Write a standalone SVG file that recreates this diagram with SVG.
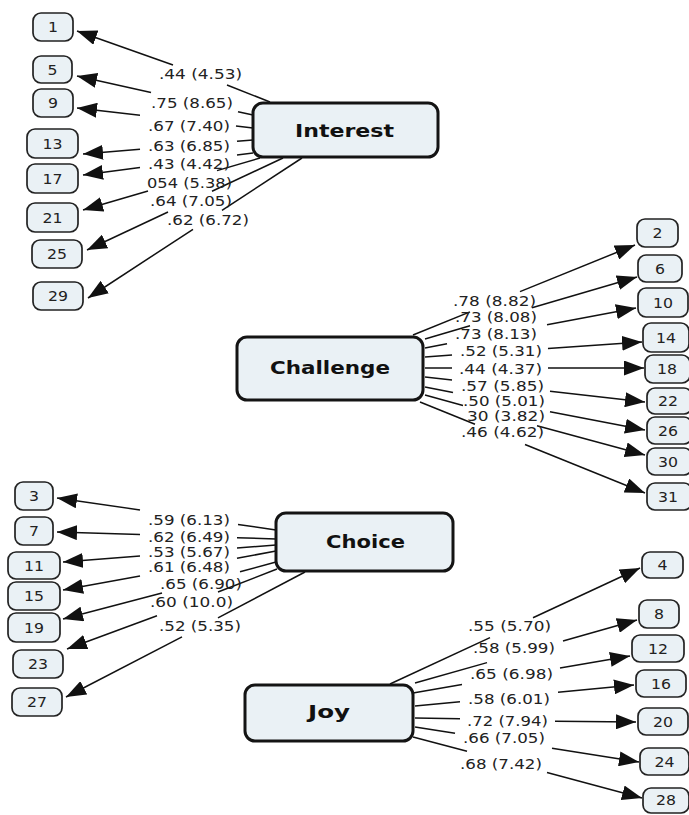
<svg xmlns="http://www.w3.org/2000/svg" width="689" height="815" viewBox="0 0 689 815">
  <style>
    .factor rect { fill: #eaf1f5; stroke: #141414; stroke-width: 3; }
    .factor text { font-family: "DejaVu Sans", Verdana, sans-serif; font-weight: bold; font-size: 17px; fill: #111; }
    .item rect { fill: #eaf1f5; stroke: #222; stroke-width: 1.7; }
    .item text { font-family: "DejaVu Sans", Verdana, sans-serif; font-size: 13.5px; fill: #222; text-anchor: middle; }
    .conn line { stroke: #111; stroke-width: 1.5; fill: none; }
    .lbl text { font-family: "DejaVu Sans", Verdana, sans-serif; font-size: 13.5px; fill: #222; }
  </style>
  <defs>
    <marker id="ah" viewBox="0 0 20 15" refX="20" refY="7.5" markerWidth="20" markerHeight="15" markerUnits="userSpaceOnUse" orient="auto">
      <path d="M0,0 L20,7.5 L0,15 z" fill="#111"/>
    </marker>
  </defs>

  <rect width="689" height="815" fill="#fff"/>

  <!-- connectors: each loading is split around its label; the item end carries the arrowhead -->
  <g id="connectors" class="conn">
    <!-- Interest -->
    <line x1="270" y1="102" x2="227" y2="85"/><line x1="173" y1="65" x2="77" y2="31" marker-end="url(#ah)"/>
    <line x1="253" y1="115" x2="238" y2="111.7"/><line x1="151" y1="92.4" x2="77" y2="76" marker-end="url(#ah)"/>
    <line x1="253" y1="128" x2="236" y2="126"/><line x1="140" y1="115.2" x2="77" y2="108" marker-end="url(#ah)"/>
    <line x1="253" y1="140" x2="237" y2="141.3"/><line x1="140" y1="149.3" x2="83" y2="154" marker-end="url(#ah)"/>
    <line x1="253" y1="153" x2="237" y2="155"/><line x1="140" y1="167.6" x2="83" y2="175" marker-end="url(#ah)"/>
    <line x1="260" y1="158" x2="217" y2="170.6"/><line x1="148" y1="191" x2="83" y2="210" marker-end="url(#ah)"/>
    <line x1="283" y1="158" x2="212" y2="191.3"/><line x1="168" y1="212" x2="87" y2="250" marker-end="url(#ah)"/>
    <line x1="302" y1="158" x2="222" y2="210.3"/><line x1="193" y1="229.3" x2="88" y2="298" marker-end="url(#ah)"/>
    <!-- Challenge -->
    <line x1="413" y1="335" x2="470" y2="311.9"/><line x1="520" y1="291.6" x2="635" y2="245" marker-end="url(#ah)"/>
    <line x1="425" y1="339" x2="470" y2="325.8"/><line x1="532" y1="307.7" x2="637" y2="277" marker-end="url(#ah)"/>
    <line x1="425" y1="348" x2="447" y2="343.8"/><line x1="547" y1="324.8" x2="636" y2="308" marker-end="url(#ah)"/>
    <line x1="425" y1="357" x2="452" y2="355.1"/><line x1="548" y1="348.5" x2="642" y2="342" marker-end="url(#ah)"/>
    <line x1="425" y1="368" x2="452" y2="368"/><line x1="548" y1="368" x2="644" y2="368" marker-end="url(#ah)"/>
    <line x1="425" y1="377" x2="452" y2="380.1"/><line x1="550" y1="391.3" x2="645" y2="402" marker-end="url(#ah)"/>
    <line x1="425" y1="387" x2="453" y2="392.5"/><line x1="550" y1="411.7" x2="645" y2="430" marker-end="url(#ah)"/>
    <line x1="425" y1="395" x2="463" y2="405.5"/><line x1="537" y1="425.8" x2="645" y2="455" marker-end="url(#ah)"/>
    <line x1="420" y1="402" x2="475" y2="424.2"/><line x1="525" y1="444.5" x2="645" y2="493" marker-end="url(#ah)"/>
    <!-- Choice -->
    <line x1="276" y1="530" x2="238" y2="524.4"/><line x1="140" y1="509.9" x2="57" y2="498" marker-end="url(#ah)"/>
    <line x1="276" y1="539" x2="237" y2="537.7"/><line x1="140" y1="534.6" x2="57" y2="532" marker-end="url(#ah)"/>
    <line x1="276" y1="545" x2="237" y2="548.1"/><line x1="140" y1="556" x2="63" y2="562" marker-end="url(#ah)"/>
    <line x1="276" y1="551" x2="237" y2="558.3"/><line x1="140" y1="576.1" x2="63" y2="590" marker-end="url(#ah)"/>
    <line x1="276" y1="562" x2="240" y2="571.8"/><line x1="162" y1="593.1" x2="63" y2="619" marker-end="url(#ah)"/>
    <line x1="277" y1="569" x2="218" y2="592"/><line x1="157" y1="615.8" x2="67" y2="649" marker-end="url(#ah)"/>
    <line x1="305" y1="572" x2="218" y2="617.9"/><line x1="182" y1="636.9" x2="66" y2="697" marker-end="url(#ah)"/>
    <!-- Joy -->
    <line x1="390" y1="684" x2="490" y2="637.6"/><line x1="533" y1="617.7" x2="640" y2="568" marker-end="url(#ah)"/>
    <line x1="415" y1="683" x2="487" y2="662.6"/><line x1="563" y1="641" x2="637" y2="620" marker-end="url(#ah)"/>
    <line x1="413" y1="693" x2="462" y2="684.6"/><line x1="560" y1="667.9" x2="630" y2="656" marker-end="url(#ah)"/>
    <line x1="415" y1="706" x2="460" y2="701.7"/><line x1="558" y1="692.3" x2="634" y2="685" marker-end="url(#ah)"/>
    <line x1="415" y1="718" x2="460" y2="718.8"/><line x1="555" y1="721.3" x2="636" y2="722" marker-end="url(#ah)"/>
    <line x1="415" y1="727" x2="455" y2="733.2"/><line x1="552" y1="748.3" x2="639" y2="762" marker-end="url(#ah)"/>
    <line x1="413" y1="737" x2="467" y2="751.3"/><line x1="547" y1="772.5" x2="642" y2="798" marker-end="url(#ah)"/>
  </g>

  <!-- loading labels: estimate (t value) -->
  <g id="labels" class="lbl">
    <text x="159" y="79" textLength="83" lengthAdjust="spacingAndGlyphs">.44 (4.53)</text>
    <text x="151" y="108" textLength="82" lengthAdjust="spacingAndGlyphs">.75 (8.65)</text>
    <text x="148" y="131" textLength="82" lengthAdjust="spacingAndGlyphs">.67 (7.40)</text>
    <text x="148" y="151" textLength="82" lengthAdjust="spacingAndGlyphs">.63 (6.85)</text>
    <text x="148" y="169" textLength="82" lengthAdjust="spacingAndGlyphs">.43 (4.42)</text>
    <text x="147" y="188" textLength="85" lengthAdjust="spacingAndGlyphs">054 (5.38)</text>
    <text x="150" y="206" textLength="82" lengthAdjust="spacingAndGlyphs">.64 (7.05)</text>
    <text x="167" y="225" textLength="82" lengthAdjust="spacingAndGlyphs">.62 (6.72)</text>

    <text x="453" y="306" textLength="83" lengthAdjust="spacingAndGlyphs">.78 (8.82)</text>
    <text x="455" y="322" textLength="82" lengthAdjust="spacingAndGlyphs">.73 (8.08)</text>
    <text x="455" y="339" textLength="82" lengthAdjust="spacingAndGlyphs">.73 (8.13)</text>
    <text x="460" y="356" textLength="82" lengthAdjust="spacingAndGlyphs">.52 (5.31)</text>
    <text x="459" y="374" textLength="83" lengthAdjust="spacingAndGlyphs">.44 (4.37)</text>
    <text x="461" y="391" textLength="83" lengthAdjust="spacingAndGlyphs">.57 (5.85)</text>
    <text x="463" y="406" textLength="82" lengthAdjust="spacingAndGlyphs">.50 (5.01)</text>
    <text x="467" y="421" textLength="78" lengthAdjust="spacingAndGlyphs">30 (3.82)</text>
    <text x="461" y="437" textLength="83" lengthAdjust="spacingAndGlyphs">.46 (4.62)</text>

    <text x="148" y="525" textLength="82" lengthAdjust="spacingAndGlyphs">.59 (6.13)</text>
    <text x="148" y="542" textLength="82" lengthAdjust="spacingAndGlyphs">.62 (6.49)</text>
    <text x="148" y="557" textLength="82" lengthAdjust="spacingAndGlyphs">.53 (5.67)</text>
    <text x="148" y="572" textLength="82" lengthAdjust="spacingAndGlyphs">.61 (6.48)</text>
    <text x="160" y="589" textLength="82" lengthAdjust="spacingAndGlyphs">.65 (6.90)</text>
    <text x="150" y="607" textLength="83" lengthAdjust="spacingAndGlyphs">.60 (10.0)</text>
    <text x="159" y="631" textLength="82" lengthAdjust="spacingAndGlyphs">.52 (5.35)</text>

    <text x="468" y="631" textLength="83" lengthAdjust="spacingAndGlyphs">.55 (5.70)</text>
    <text x="473" y="653" textLength="82" lengthAdjust="spacingAndGlyphs">.58 (5.99)</text>
    <text x="470" y="679" textLength="83" lengthAdjust="spacingAndGlyphs">.65 (6.98)</text>
    <text x="468" y="704" textLength="82" lengthAdjust="spacingAndGlyphs">.58 (6.01)</text>
    <text x="467" y="726" textLength="81" lengthAdjust="spacingAndGlyphs">.72 (7.94)</text>
    <text x="463" y="743" textLength="82" lengthAdjust="spacingAndGlyphs">.66 (7.05)</text>
    <text x="460" y="769" textLength="82" lengthAdjust="spacingAndGlyphs">.68 (7.42)</text>
  </g>

  <!-- latent factors -->
  <g id="interest" class="factor"><rect x="253" y="103" width="185" height="54" rx="10"/><text x="295" y="137" textLength="99" lengthAdjust="spacingAndGlyphs">Interest</text></g>
  <g id="challenge" class="factor"><rect x="237" y="337" width="186" height="63" rx="10"/><text x="270" y="374" textLength="120" lengthAdjust="spacingAndGlyphs">Challenge</text></g>
  <g id="choice" class="factor"><rect x="276" y="513" width="177" height="58" rx="10"/><text x="326" y="548" textLength="79" lengthAdjust="spacingAndGlyphs">Choice</text></g>
  <g id="joy" class="factor"><rect x="245" y="685" width="168" height="56" rx="10"/><text x="308" y="718" textLength="42" lengthAdjust="spacingAndGlyphs">Joy</text></g>

  <!-- observed items: Interest -->
  <g id="item1" class="item"><rect x="33" y="13" width="40" height="28" rx="8"/><text x="53" y="32" textLength="10" lengthAdjust="spacingAndGlyphs">1</text></g>
  <g id="item5" class="item"><rect x="33" y="56" width="39" height="27" rx="8"/><text x="52.5" y="74.5" textLength="10" lengthAdjust="spacingAndGlyphs">5</text></g>
  <g id="item9" class="item"><rect x="33" y="89" width="40" height="28" rx="8"/><text x="53" y="108" textLength="10" lengthAdjust="spacingAndGlyphs">9</text></g>
  <g id="item13" class="item"><rect x="27" y="129" width="51" height="29" rx="8"/><text x="52.5" y="148.5" textLength="20" lengthAdjust="spacingAndGlyphs">13</text></g>
  <g id="item17" class="item"><rect x="27" y="164" width="51" height="29" rx="8"/><text x="52.5" y="183.5" textLength="20" lengthAdjust="spacingAndGlyphs">17</text></g>
  <g id="item21" class="item"><rect x="27" y="203" width="51" height="29" rx="8"/><text x="52.5" y="222.5" textLength="20" lengthAdjust="spacingAndGlyphs">21</text></g>
  <g id="item25" class="item"><rect x="32" y="240" width="50" height="28" rx="8"/><text x="57" y="259" textLength="20" lengthAdjust="spacingAndGlyphs">25</text></g>
  <g id="item29" class="item"><rect x="33" y="282" width="50" height="28" rx="8"/><text x="58" y="301" textLength="20" lengthAdjust="spacingAndGlyphs">29</text></g>

  <!-- observed items: Challenge -->
  <g id="item2" class="item"><rect x="637" y="219" width="41" height="28" rx="8"/><text x="657.5" y="238" textLength="10" lengthAdjust="spacingAndGlyphs">2</text></g>
  <g id="item6" class="item"><rect x="638" y="255" width="44" height="27" rx="8"/><text x="660" y="273.5" textLength="10" lengthAdjust="spacingAndGlyphs">6</text></g>
  <g id="item10" class="item"><rect x="638" y="288" width="50" height="29" rx="8"/><text x="663" y="307.5" textLength="20" lengthAdjust="spacingAndGlyphs">10</text></g>
  <g id="item14" class="item"><rect x="643" y="323" width="46" height="29" rx="8"/><text x="666" y="342.5" textLength="20" lengthAdjust="spacingAndGlyphs">14</text></g>
  <g id="item18" class="item"><rect x="645" y="355" width="45" height="28" rx="8"/><text x="667" y="374" textLength="20" lengthAdjust="spacingAndGlyphs">18</text></g>
  <g id="item22" class="item"><rect x="647" y="388" width="45" height="26" rx="8"/><text x="668" y="406" textLength="20" lengthAdjust="spacingAndGlyphs">22</text></g>
  <g id="item26" class="item"><rect x="647" y="417" width="45" height="27" rx="8"/><text x="668" y="435.5" textLength="20" lengthAdjust="spacingAndGlyphs">26</text></g>
  <g id="item30" class="item"><rect x="647" y="448" width="45" height="27" rx="8"/><text x="668" y="466.5" textLength="20" lengthAdjust="spacingAndGlyphs">30</text></g>
  <g id="item31" class="item"><rect x="647" y="483" width="45" height="27" rx="8"/><text x="668" y="501.5" textLength="20" lengthAdjust="spacingAndGlyphs">31</text></g>

  <!-- observed items: Choice -->
  <g id="item3" class="item"><rect x="15" y="482" width="38" height="28" rx="8"/><text x="34" y="501" textLength="10" lengthAdjust="spacingAndGlyphs">3</text></g>
  <g id="item7" class="item"><rect x="15" y="517" width="38" height="28" rx="8"/><text x="34" y="536" textLength="10" lengthAdjust="spacingAndGlyphs">7</text></g>
  <g id="item11" class="item"><rect x="8" y="552" width="52" height="27" rx="8"/><text x="34" y="570.5" textLength="20" lengthAdjust="spacingAndGlyphs">11</text></g>
  <g id="item15" class="item"><rect x="8" y="582" width="52" height="28" rx="8"/><text x="34" y="601" textLength="20" lengthAdjust="spacingAndGlyphs">15</text></g>
  <g id="item19" class="item"><rect x="8" y="613" width="52" height="29" rx="8"/><text x="34" y="632.5" textLength="20" lengthAdjust="spacingAndGlyphs">19</text></g>
  <g id="item23" class="item"><rect x="13" y="650" width="50" height="28" rx="8"/><text x="38" y="669" textLength="20" lengthAdjust="spacingAndGlyphs">23</text></g>
  <g id="item27" class="item"><rect x="12" y="688" width="50" height="28" rx="8"/><text x="37" y="707" textLength="20" lengthAdjust="spacingAndGlyphs">27</text></g>

  <!-- observed items: Joy -->
  <g id="item4" class="item"><rect x="642" y="552" width="41" height="26" rx="8"/><text x="662.5" y="570" textLength="10" lengthAdjust="spacingAndGlyphs">4</text></g>
  <g id="item8" class="item"><rect x="639" y="600" width="40" height="28" rx="8"/><text x="659" y="619" textLength="10" lengthAdjust="spacingAndGlyphs">8</text></g>
  <g id="item12" class="item"><rect x="632" y="635" width="52" height="27" rx="8"/><text x="658" y="653.5" textLength="20" lengthAdjust="spacingAndGlyphs">12</text></g>
  <g id="item16" class="item"><rect x="636" y="670" width="50" height="27" rx="8"/><text x="661" y="688.5" textLength="20" lengthAdjust="spacingAndGlyphs">16</text></g>
  <g id="item20" class="item"><rect x="638" y="708" width="50" height="27" rx="8"/><text x="663" y="726.5" textLength="20" lengthAdjust="spacingAndGlyphs">20</text></g>
  <g id="item24" class="item"><rect x="640" y="748" width="49" height="27" rx="8"/><text x="664.5" y="766.5" textLength="20" lengthAdjust="spacingAndGlyphs">24</text></g>
  <g id="item28" class="item"><rect x="643" y="788" width="46" height="25" rx="8"/><text x="666" y="805" textLength="20" lengthAdjust="spacingAndGlyphs">28</text></g>
</svg>
